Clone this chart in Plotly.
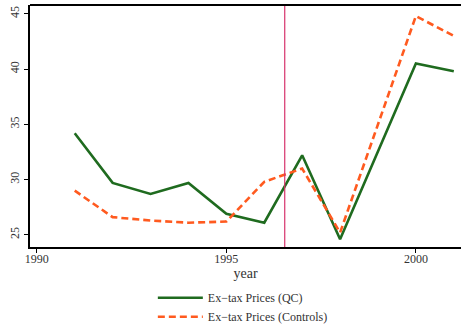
import plotly.graph_objects as go

years = [1991, 1992, 1993, 1994, 1995, 1996, 1997, 1998, 2000, 2001]
qc_prices = [34.2, 29.7, 28.7, 29.7, 26.9, 26.1, 32.2, 24.6, 40.5, 39.8]
control_prices = [29.0, 26.6, 26.3, 26.1, 26.2, 29.8, 31.0, 25.2, 44.8, 43.0]
policy_year = 1996.54
x_ticks = [1990, 1995, 2000]
y_ticks = [25, 30, 35, 40, 45]

font = dict(family="Liberation Serif, Times New Roman, serif", size=12, color="#333333")

fig = go.Figure()
fig.add_trace(go.Scatter(x=years, y=qc_prices, mode="lines", name="Ex\u2212tax Prices (QC)",
                         line=dict(color="#1f6b1f", width=2.6)))
fig.add_trace(go.Scatter(x=years, y=control_prices, mode="lines", name="Ex\u2212tax Prices (Controls)",
                         line=dict(color="#ff5a1f", width=2.6, dash="7px,4px")))
fig.add_vline(x=policy_year, line=dict(color="#d6336c", width=1.2))

fig.add_shape(type="line", xref="paper", yref="paper", x0=0, x1=1, y0=1, y1=1,
              line=dict(color="black", width=2))

fig.update_layout(
    width=461, height=328,
    margin=dict(l=30, r=0, t=5, b=81, autoexpand=False),
    paper_bgcolor="white", plot_bgcolor="white",
    font=font,
    showlegend=True,
    legend=dict(x=0.285, xanchor="left", y=-0.15, yanchor="top", itemwidth=45,
                font=font, tracegroupgap=0, bgcolor="rgba(0,0,0,0)"),
    xaxis=dict(range=[1989.82, 2001.19], tickvals=x_ticks, ticks="outside", ticklen=4,
               tickcolor="black", showline=True, linecolor="black", linewidth=2,
               showgrid=False, zeroline=False, title=dict(text="year", standoff=0),
               tickfont=font, automargin=False, ticklabelstandoff=-4),
    yaxis=dict(range=[23.9, 45.8], tickvals=y_ticks, ticks="outside", ticklen=4,
               tickcolor="black", showline=True, linecolor="black", linewidth=2,
               showgrid=False, zeroline=False, tickangle=-90, tickfont=font,
               automargin=False),
)

fig.write_html("out.html", config={"displayModeBar": False},
               post_script="document.body.style.margin='0';")
